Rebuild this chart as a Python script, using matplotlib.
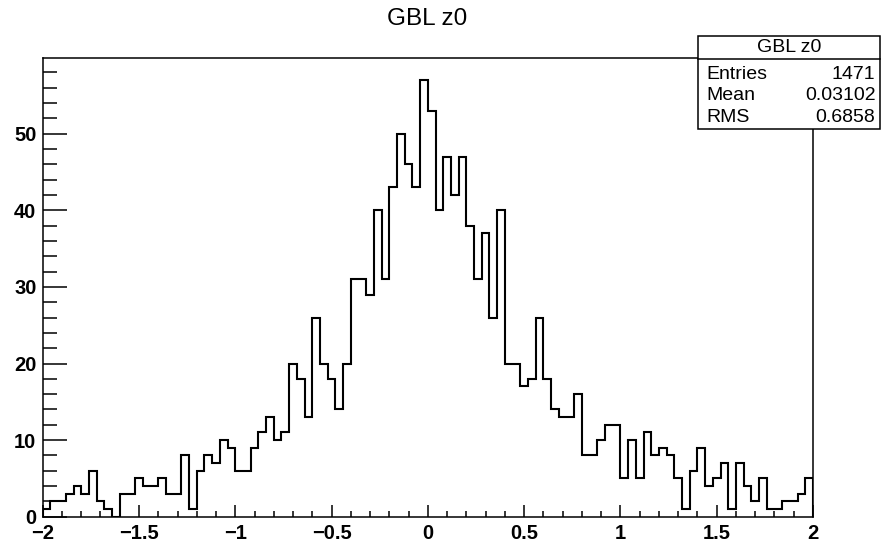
import numpy as np
import matplotlib
matplotlib.use("Agg")
import matplotlib.pyplot as plt
from matplotlib.patches import Rectangle
from matplotlib.lines import Line2D

# ---- data ----
title = "GBL z0"
x_min, x_max, n_bins = -2.0, 2.0, 100
counts = [1, 2, 2, 3, 4, 3, 6, 2, 1, 0,
          3, 3, 5, 4, 4, 5, 3, 3, 8, 1,
          6, 8, 7, 10, 9, 6, 6, 9, 11, 13,
          10, 11, 20, 18, 13, 26, 20, 18, 14, 20,
          31, 31, 29, 40, 31, 43, 50, 46, 43, 57,
          53, 40, 47, 42, 47, 38, 31, 37, 26, 40,
          20, 20, 17, 18, 26, 18, 14, 13, 13, 16,
          8, 8, 10, 12, 12, 5, 10, 5, 11, 8,
          9, 8, 5, 1, 6, 9, 4, 5, 7, 1,
          7, 4, 2, 5, 1, 1, 2, 2, 3, 5]
x_ticks = [-2, -1.5, -1, -0.5, 0, 0.5, 1, 1.5, 2]
x_tick_labels = ["\u22122", "\u22121.5", "\u22121", "\u22120.5", "0", "0.5", "1", "1.5", "2"]
y_ticks = [0, 10, 20, 30, 40, 50]
y_tick_labels = ["0", "10", "20", "30", "40", "50"]
stats_names = ["Entries", "Mean", "RMS"]
stats_values = ["1471", "0.03102", "0.6858"]

plt.rcParams['font.family'] = ['Liberation Sans', 'DejaVu Sans']

W, H = 882, 545
fig = plt.figure(figsize=(W / 100, H / 100), dpi=100)

def fx(px):
    return px / W

def fy(py):
    return 1 - py / H

ax_l, ax_r, ax_t, ax_b = 42.7, 813.0, 58.3, 516.7
ax = fig.add_axes([fx(ax_l), fy(ax_b), fx(ax_r - ax_l), (ax_b - ax_t) / H])

edges = np.linspace(x_min, x_max, n_bins + 1)
ax.stairs(counts, edges, baseline=0, color='black', linewidth=1.5)

ax.set_xlim(x_min, x_max)
ax.set_ylim(0, max(counts) * 1.05)

ax.set_xticks(x_ticks)
ax.set_xticklabels(x_tick_labels, fontweight='bold', fontsize=14.5)
ax.set_xticks(np.arange(-2, 2.001, 0.1), minor=True)
ax.set_yticks(y_ticks)
ax.set_yticklabels(y_tick_labels, fontweight='bold', fontsize=14.5)
ax.set_yticks(np.arange(0, 59, 2), minor=True)

ax.tick_params(axis='x', which='major', direction='in', length=8.6, width=1.1, pad=5.5)
ax.tick_params(axis='x', which='minor', direction='in', length=4.3, width=1.1)
ax.tick_params(axis='y', which='major', direction='in', length=17.3, width=1.1, pad=4.5)
ax.tick_params(axis='y', which='minor', direction='in', length=10, width=1.1)
ax.tick_params(top=False, right=False, which='both')
for s in ax.spines.values():
    s.set_linewidth(1.1)

# title
fig.text(fx(426.7), fy(19), title, ha='center', va='center', fontsize=17.5)

# stats box
bx_l, bx_r, bx_t, bx_b, bx_h = 698.3, 879.5, 36.0, 129.3, 59.3
fig.patches.append(Rectangle((fx(bx_l), fy(bx_b)), fx(bx_r - bx_l), (bx_b - bx_t) / H,
                             transform=fig.transFigure, facecolor='white',
                             edgecolor='black', linewidth=1.1, zorder=5))
fig.lines.append(Line2D([fx(bx_l), fx(bx_r)], [fy(bx_h), fy(bx_h)],
                        transform=fig.transFigure, color='black', linewidth=1.1, zorder=6))
fig.text(fx((bx_l + bx_r) / 2), fy(47.5), title, ha='center', va='center', fontsize=14, zorder=7)
row_y = [74.3, 96.0, 117.7]
for name, val, yy in zip(stats_names, stats_values, row_y):
    fig.text(fx(706.5), fy(yy), name, ha='left', va='center', fontsize=14, zorder=7)
    fig.text(fx(875.5), fy(yy), val, ha='right', va='center', fontsize=14, zorder=7)

fig.savefig("out.png", dpi=100)
